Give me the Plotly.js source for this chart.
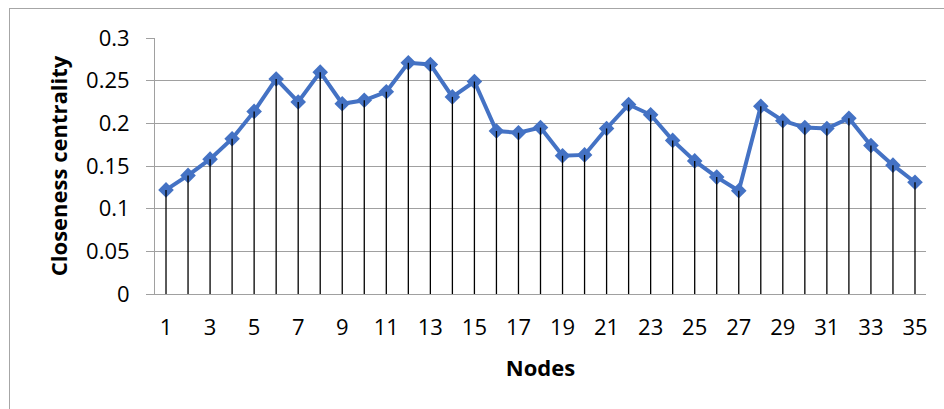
<!DOCTYPE html>
<html>
<head>
<meta charset="utf-8">
<script src="https://cdn.plot.ly/plotly-3.0.1.min.js"></script>
<style>
  html, body { margin: 0; padding: 0; background: #ffffff; }
  #wrap { position: relative; width: 944px; height: 409px; overflow: hidden; }
  #frame { position: absolute; left: 9px; top: 8px; width: 1000px; height: 500px;
           border: 1px solid #a6a6a6; box-sizing: border-box; }
  #chart { position: absolute; left: 0; top: 0; width: 944px; height: 409px; }
</style>
</head>
<body>
<div id="wrap">
  <div id="frame"></div>
  <div id="chart"></div>
</div>
<script>
// Closeness centrality of each node
const nodes = [1, 2, 3, 4, 5, 6, 7, 8, 9, 10, 11, 12, 13, 14, 15, 16, 17, 18,
               19, 20, 21, 22, 23, 24, 25, 26, 27, 28, 29, 30, 31, 32, 33, 34, 35];
const closeness = [0.122, 0.139, 0.158, 0.182, 0.214, 0.252, 0.225, 0.260, 0.223,
                   0.227, 0.237, 0.271, 0.269, 0.231, 0.249, 0.191, 0.189, 0.195,
                   0.162, 0.163, 0.194, 0.222, 0.210, 0.180, 0.156, 0.137, 0.121,
                   0.220, 0.203, 0.195, 0.194, 0.206, 0.174, 0.151, 0.131];
const xTickLabels = ['1', '3', '5', '7', '9', '11', '13', '15', '17', '19', '21',
                     '23', '25', '27', '29', '31', '33', '35'];
const yTicks = [0, 0.05, 0.1, 0.15, 0.2, 0.25, 0.3];

// drop lines from each point down to the zero line
const dropX = [], dropY = [];
nodes.forEach((n, i) => {
  dropX.push(n, n, null);
  dropY.push(0, closeness[i], null);
});

const font = "'Open Sans', 'Noto Sans', sans-serif";

const traces = [
  {
    x: nodes, y: closeness, type: 'scatter', mode: 'lines+markers',
    line: { color: '#4472C4', width: 4 },
    marker: { symbol: 'diamond', size: 12, color: '#4472C4' },
    hoverinfo: 'x+y', showlegend: false
  },
  {
    x: dropX, y: dropY, type: 'scatter', mode: 'lines',
    line: { color: '#000000', width: 1.3 },
    hoverinfo: 'skip', showlegend: false
  }
];

const layout = {
  width: 944, height: 409,
  margin: { l: 155, r: 18, t: 38, b: 115 },
  paper_bgcolor: 'rgba(0,0,0,0)',
  plot_bgcolor: 'rgba(0,0,0,0)',
  font: { family: font, size: 22, color: '#000000' },
  showlegend: false,
  xaxis: {
    range: [0.5, 35.5],
    tickmode: 'array',
    tickvals: xTickLabels.map(Number),
    ticktext: xTickLabels,
    showgrid: false, zeroline: false,
    showline: true, linecolor: '#a0a0a0', linewidth: 1,
    ticks: '', ticklabelstandoff: 14,
    tickfont: { family: font, size: 22, color: '#000000' },
    title: { text: 'Nodes', font: { family: font, size: 22, color: '#000000', weight: 'bold' }, standoff: 20 }
  },
  yaxis: {
    range: [0, 0.3],
    tickmode: 'array',
    tickvals: yTicks,
    ticktext: yTicks.map(String),
    showgrid: true, gridcolor: '#a0a0a0', gridwidth: 1,
    zeroline: false,
    showline: true, linecolor: '#a0a0a0', linewidth: 1,
    ticks: 'outside', ticklen: 8, tickcolor: '#a0a0a0', tickwidth: 1,
    ticklabelstandoff: 12,
    tickfont: { family: font, size: 22, color: '#000000' },
    title: { text: 'Closeness centrality', font: { family: font, size: 22, color: '#000000', weight: 'bold' }, standoff: 12 }
  }
};

Plotly.newPlot('chart', traces, layout, { staticPlot: true, displayModeBar: false });
</script>
</body>
</html>
